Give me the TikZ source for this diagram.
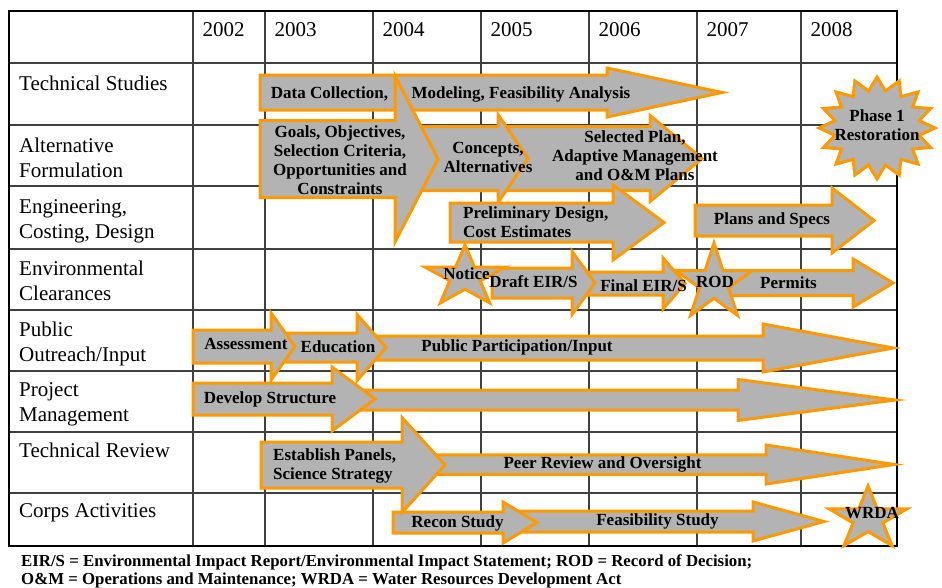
\documentclass[tikz,border=0pt]{standalone}
\usepackage{fontspec}
\setmainfont{Liberation Serif}
\definecolor{gorange}{RGB}{255,153,0}
\definecolor{ggray}{RGB}{179,179,179}
\definecolor{gline}{RGB}{64,64,64}

\begin{document}
\begin{tikzpicture}[x=1pt,y=-1pt,
  gridline/.style={gline,line width=1.6pt},
  garrow/.style={draw=gorange,fill=ggray,line width=3pt,line join=miter},
  cell/.style={font=\fontsize{21}{25}\selectfont,anchor=base west,align=left,inner sep=0pt},
  lbl/.style={font=\fontsize{17}{19}\selectfont\bfseries,align=center,inner sep=0pt},
  note/.style={font=\fontsize{16.8}{18}\selectfont\bfseries,anchor=west,align=left,inner sep=0pt}]
\useasboundingbox (0,0) rectangle (942,587);

% Grid
\foreach \x in {193,265,373,481,589,697,801}
  \draw[gridline] (\x,11) -- (\x,546);
\foreach \y in {63,125,186,249,310,371,432,493}
  \draw[gridline] (9,\y) -- (897,\y);
\draw[line width=2.8pt] (9,11) rectangle (897,546);

% Years
\foreach \x/\yr in {193/2002,265/2003,373/2004,481/2005,589/2006,697/2007,801/2008}
  \node[cell] (yr\yr) at (\x+9.5,36) {\yr};

% Tasks (base = last line)
\foreach \y/\txt [count=\i] in {90/{Technical Studies}, 177/{Alternative\\Formulation},
    238/{Engineering,\\Costing, Design}, 300/{Environmental\\Clearances},
    361/{Public\\Outreach/Input}, 421.5/{Project\\Management},
    457/{Technical Review}, 517/{Corps Activities}}
  \node[cell] (task\i) at (19,\y) {\txt};

% Arrows: body start / head start / tip / centre / body half / head half
\foreach \xa/\xb/\xc/\yc/\bh/\hh in {
    260/607/722/92.5/17.5/24.5,   % technical studies
    480/650/702/158.5/32/43,      % selected plan
    410/498/528/158.5/32/44,      % concepts
    260/395/438/159/38.5/83,      % goals
    450/613/664/222.5/19.5/37.5,  % preliminary design
    695/832/874/220.5/15.5/32.5,  % plans and specs
    580/663/685/283.5/11.5/25.5,  % final EIR/S
    492/572/595/283/15/31.5,      % draft EIR/S
    725/853/893/283/12.5/24,      % permits
    365/763/893/348/12/24,        % public participation
    265/357/386/347.5/14.5/33,    % education
    193/271/295/346.5/16.5/33.5,  % assessment
    340/738/895/400/10/20.5,      % management
    193/332/375/399/16/32,        % develop structure
    420/766/894/464.5/9.75/19.5,  % peer review
    510/753/824/521.5/10.5/19.5,  % feasibility study
    393/503/537/522.5/10.5/20.5,  % recon study
    261/402/445/465/23/47.5}      % panels
{
  \draw[garrow] (\xa,{\yc-\bh}) -- (\xb,{\yc-\bh}) -- (\xb,{\yc-\hh}) -- (\xc,\yc)
    -- (\xb,{\yc+\hh}) -- (\xb,{\yc+\bh}) -- (\xa,{\yc+\bh}) -- cycle;
}

% Stars: centre / radii / last point / inner ratio
\foreach \cx/\cy/\rx/\ry/\m/\r in {465/277/42/32/9/0.382, 714/283/40/40/9/0.382,
    877/128/58/51/31/0.74, 868/519/41/33/9/0.382}
  \draw[garrow] (\cx,\cy-\ry) \foreach \k in {1,...,\m} {
    -- ({\cx+(1-(1-\r)*mod(\k,2))*\rx*sin(360/(\m+1)*\k)},
        {\cy-(1-(1-\r)*mod(\k,2))*\ry*cos(360/(\m+1)*\k)}) } -- cycle;

% Labels
\node[lbl] (datacoll) at (329.5,94) {Data Collection,};
\node[lbl] (modeling) at (521,94) {Modeling, Feasibility Analysis};
\node[lbl] (goals) at (340,160.5) {Goals, Objectives,\\Selection Criteria,\\Opportunities and\\Constraints};
\node[lbl] (concepts) at (488,157.5) {Concepts,\\Alternatives};
\node[lbl] (selplan) at (635,156) {Selected Plan,\\Adaptive Management\\and O\&M Plans};
\node[lbl,anchor=west,align=left] (prelim) at (463,222) {Preliminary Design,\\Cost Estimates};
\node[lbl] (specs) at (772,220) {Plans and Specs};
\node[lbl] (notice) at (466.5,274) {Notice};
\node[lbl] (draft) at (533.5,282) {Draft EIR/S};
\node[lbl] (final) at (643.5,286) {Final EIR/S};
\node[lbl] (rod) at (715,282) {ROD};
\node[lbl] (permits) at (788.5,283) {Permits};
\node[lbl] (phase) at (877,125) {Phase 1\\Restoration};
\node[lbl] (assess) at (246,344) {Assessment};
\node[lbl] (educ) at (338,347) {Education};
\node[lbl] (public) at (517,347) {Public Participation/Input};
\node[lbl] (develop) at (270,399) {Develop Structure};
\node[lbl,anchor=west,align=left] (panels) at (273,465.5) {Establish Panels,\\Science Strategy};
\node[lbl] (peer) at (602.5,464) {Peer Review and Oversight};
\node[lbl] (recon) at (457.5,523) {Recon Study};
\node[lbl] (feas) at (657.5,521) {Feasibility Study};
\node[lbl] (wrda) at (872,513) {WRDA};

% Key
\node[note] (key) at (21,571) {EIR/S = Environmental Impact Report/Environmental Impact Statement; ROD = Record of Decision;\\O\&M = Operations and Maintenance; WRDA = Water Resources Development Act};
\end{tikzpicture}
\end{document}
